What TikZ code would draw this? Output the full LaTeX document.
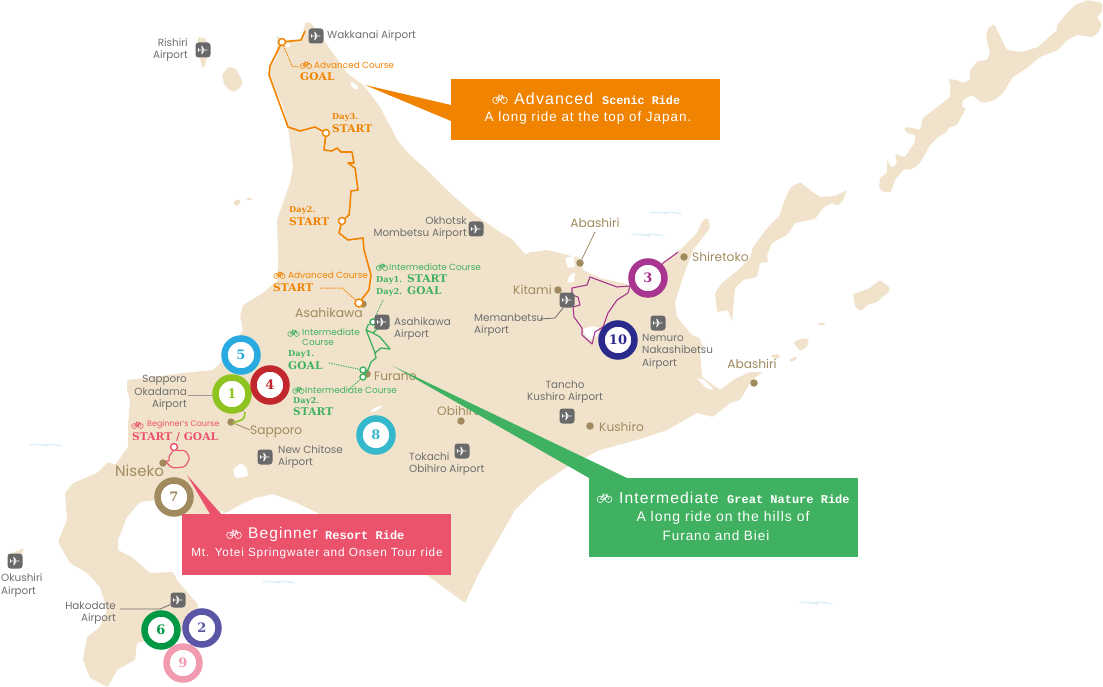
\documentclass[tikz,border=0pt]{standalone}
\usepackage{fontspec}
\setmainfont{Poppins}
\newfontfamily\slab{DejaVu Serif Bold}[LetterSpace=1]
\newfontfamily\slabb{DejaVu Serif Bold}
\newfontfamily\mono{Liberation Mono Bold}
\newfontfamily\helv{Liberation Sans}[LetterSpace=7]
\definecolor{land}{HTML}{F1E3CB}
\definecolor{wave}{HTML}{DCEEF7}
\definecolor{gtext}{HTML}{6E6E6E}
\definecolor{brown}{HTML}{A08A5E}
\definecolor{icon}{HTML}{696969}
\definecolor{cOr}{HTML}{F08300}
\definecolor{cGr}{HTML}{40B160}
\definecolor{cPk}{HTML}{EB526B}
\definecolor{cPu}{HTML}{A8358F}
\definecolor{cLi}{HTML}{8FC31F}
\definecolor{cFive}{HTML}{29ABE2}
\definecolor{cFour}{HTML}{C1272D}
\definecolor{cEight}{HTML}{36B8CC}
\definecolor{cSix}{HTML}{009844}
\definecolor{cTwo}{HTML}{5A55A5}
\definecolor{cNine}{HTML}{F09BB0}
\definecolor{cTen}{HTML}{2A2A8C}
\tikzset{
  x=1pt,y=-1pt,
  landmass/.style={fill=land,draw=none,rounded corners=1.2pt},
  lake/.style={fill=white,draw=none,rounded corners=1pt},
  seawave/.style={draw=wave,line width=1.4pt,line cap=round},
  gl/.style={font=\fontsize{#1}{12.4}\selectfont,text=gtext,inner sep=0pt},
  gl/.default=10.4,
  bl/.style={font=\fontsize{#1}{13}\selectfont,text=brown,inner sep=0pt},
  bl/.default=12.2,
  lead/.style={draw=#1,line width=.8pt},
  num/.style={circle,draw=#1,line width=6.5pt,fill=white,minimum size=33pt,inner sep=0pt,text=#1,font=\slabb\fontsize{13}{13}\selectfont},
  stopdot/.style={circle,fill=white,draw=#1,line width=1.4pt,minimum size=7pt,inner sep=0pt},
  place/.style={circle,fill=brown,minimum size=7.5pt,inner sep=0pt},
  route/.style={draw=#1,line width=1.6pt,line join=round},
  dots/.style={draw=#1,line width=1pt,dash pattern=on 1.3pt off 1.1pt},
  small/.style={font=\fontsize{8.9}{10}\selectfont,text=#1,inner sep=0pt,anchor=west},
  day/.style={font=\slab\fontsize{8.2}{10}\selectfont,text=#1,inner sep=0pt,anchor=west},
  big/.style={font=\slab\fontsize{10.6}{11}\selectfont,text=#1,inner sep=0pt,anchor=west},
  box/.style={fill=#1,draw=none},
  wt/.style={text=white,inner sep=0pt,font=\helv\fontsize{#1}{17}\selectfont},
  mt/.style={text=white,inner sep=0pt,font=\mono\fontsize{#1}{12}\selectfont},
  airport/.pic={
    \fill[icon,rounded corners=3pt] (-7.5,-7.5) rectangle (7.5,7.5);
    \begin{scope}[scale=.88]
    \fill[white] (-5.5,-.55) -- (4,-.55) -- (5.6,0) -- (4,.55) -- (-5.5,.55) -- cycle;
    \fill[white] (1.6,-.5) -- (-1,-4.6) -- (-2,-4.6) -- (-1,-.5) -- cycle;
    \fill[white] (1.6,.5) -- (-1,4.6) -- (-2,4.6) -- (-1,.5) -- cycle;
    \fill[white] (-4.3,-.5) -- (-5.4,-2.2) -- (-5.8,-2.2) -- (-5.4,.5) -- (-5.8,2.2) -- (-5.4,2.2) -- (-4.3,.5) -- cycle;
    \end{scope}
  },
  bicycle/.pic={
    \draw[#1,line width=.6pt] (-3.2,1) circle (2.5) (3.2,1) circle (2.5);
    \draw[#1,line width=.6pt] (-3.2,1) -- (-.9,-2.3) -- (2.1,-2.3) -- (3.2,1) (-.9,-2.3) -- (.2,1) -- (2.1,-2.3) (-3.2,1) -- (.2,1) (-1.6,-3.2) -- (-.3,-3.2) (1.4,-3.2) -- (2.1,-2.3);
  }
}
\begin{document}
\begin{tikzpicture}
\useasboundingbox (0,0) rectangle (1103,687);
% waves
\foreach \wx/\wy in {30/445,650/213,632/235,263/582,800/603}
  \draw[seawave] (\wx,\wy) .. controls +(6,-2) and +(8,2) .. ++(14,0) .. controls +(6,-2) and +(8,2) .. ++(14,0) ;
% land
\fill[landmass] (305,23)--(310,22)--(315,28)--(327,45)--(338,60)--(347,73)--(363,85)--(372,96)--(380,107)--(388,122)--(397,140)--(410,155)--(427,170)--(450,193)--(475,215)--(500,232)--(513,240)--(525,253)--(547,250)--(567,255)--(580,258)--(583,270)--(600,278)--(630,285)--(640,280)--(663,263)--(680,250)--(697,233)--(703,220)--(708,218)--(710,228)--(693,250)--(682,280)--(675,303)--(677,317)--(692,335)--(707,340)--(700,350)--(702,377)--(720,390)--(733,380)--(750,372)--(763,372)--(752,380)--(740,400)--(730,403)--(713,417)--(697,413)--(667,430)--(637,440)--(600,450)--(570,465)--(540,485)--(515,510)--(495,545)--(478,575)--(465,603)--(450,592)--(420,570)--(380,540)--(340,525)--(320,514)--(297,503)--(273,494)--(255,498)--(240,505)--(225,513)--(183,517)--(170,505)--(157,500)--(140,502)--(127,517)--(118,540)--(118,550)--(133,558)--(150,573)--(173,572)--(177,580)--(188,593)--(197,603)--(200,620)--(180,632)--(150,640)--(137,643)--(135,660)--(117,670)--(108,687)--(90,678)--(83,660)--(87,637)--(100,627)--(107,610)--(100,587)--(87,573)--(70,563)--(58,542)--(67,520)--(65,493)--(73,483)--(97,473)--(108,462)--(115,465)--(128,447)--(128,425)--(130,400)--(127,390)--(127,380)--(153,377)--(183,373)--(213,370)--(223,360)--(243,330)--(240,317)--(243,305)--(263,293)--(278,280)--(278,250)--(277,220)--(290,183)--(293,167)--(288,127)--(283,107)--(268,72)--(277,57)--(277,35)--(282,40)--(302,40)--cycle;
% islands
\fill[landmass] (198,37)--(203,38)--(205,37)--(208,50)--(205,67)--(202,67)--(198,50)--cycle;
\fill[landmass] (228,67)--(235,68)--(241,78)--(243,84)--(235,92)--(229,90)--(224,84)--(222,75)--cycle;
\fill[landmass] (233,202)--(238,199)--(241,201)--(238,206)--(235,206)--cycle;
\fill[landmass] (245,199)--(249,197)--(253,200)--(249,200)--cycle;
\fill[landmass] (8,555)--(24,548)--(20,560)--(15,568)--(10,566)--cycle;
\fill[landmass] (732,322)--(735,288)--(743,280)--(757,277)--(760,263)--(768,262)--(767,255)--(772,243)--(787,235)--(795,223)--(815,219)--(824,207)--(832,203)--(838,206)--(843,200)--(847,190)--(835,196)--(820,197)--(810,190)--(800,182)--(790,188)--(782,207)--(780,215)--(768,227)--(753,247)--(750,258)--(738,270)--(722,283)--(715,293)--(717,312)--(728,310)--cycle;
\fill[landmass] (879,188)--(880,178)--(887,173)--(887,160)--(892,168)--(897,163)--(895,154)--(905,157)--(915,142)--(915,135)--(907,133)--(904,128)--(908,127)--(920,130)--(923,118)--(940,105)--(950,97)--(950,83)--(948,79)--(957,80)--(963,83)--(970,80)--(970,70)--(978,61)--(987,60)--(990,53)--(986,37)--(988,28)--(994,24)--(1007,50)--(1022,52)--(1038,47)--(1057,30)--(1057,25)--(1068,12)--(1075,5)--(1088,0)--(1102,3)--(1102,12)--(1097,17)--(1102,25)--(1098,33)--(1092,37)--(1077,35)--(1067,40)--(1058,50)--(1040,57)--(1027,68)--(1013,77)--(1003,93)--(995,100)--(982,103)--(972,95)--(963,100)--(962,107)--(966,108)--(957,125)--(948,128)--(947,132)--(938,137)--(930,145)--(922,160)--(918,165)--(910,170)--(904,169)--(895,180)--(891,192)--(883,192)--cycle;
\fill[landmass] (853,294)--(865,290)--(870,288)--(880,280)--(890,288)--(889,292)--(882,297)--(877,302)--(867,305)--(861,311)--(855,307)--cycle;
\fill[landmass] (793,342)--(803,338)--(809,340)--(807,347)--(800,351)--cycle;
\fill[landmass] (817,325)--(822,322)--(826,325)--cycle;
\fill[landmass] (770,355)--(779,354)--(780,358)--(775,359)--cycle;
\fill[landmass] (789,360)--(797,356)--(796,360)--(791,362)--cycle;
\fill[landmass] (785,366)--(788,366)--(786,368)--cycle;
% lakes
\fill[lake] (350,82)--(354,83)--(359,88)--(356,90)--(352,87)--cycle;
\fill[lake] (284,44)--(291,44)--(288,48)--cycle;
\fill[lake] (513,240)--(523,244)--(530,253)--(525,254)--cycle;
\fill[lake] (565,258)--(574,256)--(575,267)--(568,268)--cycle;
\fill[lake] (567,283)--(569,276)--(575,272)--(574,282)--cycle;
\fill[lake] (583,329)--(592,326)--(600,328)--(597,336)--(590,340)--(585,335)--cycle;
\fill[lake] (233,470)--(237,466)--(241,463)--(247,468)--(248,476)--(238,478)--(235,477)--cycle;
\fill[lake] (370,413)--(374,408)--(383,405)--(378,410)--cycle;
\fill[lake] (692,335)--(700,336)--(708,342)--(702,346)--(700,338)--cycle;
\fill[lake] (697,378)--(704,380)--(714,390)--(706,388)--cycle;
\fill[white] (222,512) circle (1.6);
\fill[white] (759,318) circle (1);
% routes
\node[stopdot=cOr] (oGoal) at (282,42) {};
\node[stopdot=cOr] (oDay3) at (326,133) {};
\node[stopdot=cOr] (oDay2) at (342,221) {};
\node[place] (asahi) at (363,304) {};
\coordinate (oEnd) at (305,31);
\coordinate (oGoalTxt) at (299,67);
\coordinate (oStartTxt) at (320,288);
\draw[route=cOr] (oEnd) -- (301,40) -- (oGoal) -- (270,66) -- (269,75) -- (288,127) -- (300,131) -- (315,127) -- (oDay3);
\draw[route=cOr] (oDay3) -- (324,150) -- (332,151) -- (337,148) -- (341,152) -- (352,152) -- (354,163) -- (348,163) -- (355,168) -- (358,190) -- (351,191) -- (350,205) -- (349,215) -- (oDay2);
\draw[route=cOr] (oDay2) -- (339,233) -- (348,240) -- (363,238) -- (364,250) -- (371,275) -- (369,290) -- (359,303);
\draw[dots=cOr] (oGoal) -- (292,66) -- (oGoalTxt);
\draw[dots=cOr] (oStartTxt) -- (342,288) -- (359,303);
\node[stopdot=cOr,minimum size=8pt] (oStart) at (359,303) {};
% Green route
\node[place] (furano) at (367,374) {};
\coordinate (gTxt1) at (383,300);
\coordinate (gTxt2) at (329,363);
\coordinate (gTxt3) at (348,390);
\node[stopdot=cGr,minimum size=6pt] (gA) at (373,322) {};
\node[stopdot=cGr,minimum size=6pt] (gB) at (363,370) {};
\node[stopdot=cGr,minimum size=6pt] (gC) at (363,377) {};
\draw[route=cGr,line width=1.3pt] (gA) -- (368,325) -- (366,330) -- (373,333) -- (380,337) -- (390,349) -- (381,348) -- (375,353) -- (376,358) -- (371,362) -- (368,370) -- (gB) (366,330) -- (372,345) -- (375,353) (368,370) -- (gC) (373,333) -- (380,326) -- (374,328);
\draw[dots=cGr] (gTxt1) -- (gA);
\draw[dots=cGr] (gTxt2) -- (gB);
\draw[dots=cGr] (gTxt3) -- (gC);
% Red route
\node[stopdot=cPk,minimum size=7pt] (rS) at (174,447) {};
\draw[route=cPk,line width=1.1pt,rounded corners=2pt] (rS) -- (172,453) -- (168,457) -- (170,461) -- (165,461) -- (172,468) -- (185,467) -- (190,458) -- (185,450) -- (177,451) -- (rS);
% purple route
\coordinate (pEnd) at (678,252);
\draw[route=cPu,line width=1.1pt] (pEnd) -- (670,258) -- (663,263) -- (650,280) -- (630,286) -- (617,287) -- (590,277) -- (587,285) -- (572,288) -- (572,295) -- (578,297) -- (580,305) -- (573,307) -- (574,317) -- (582,328) -- (582,335) -- (592,344) -- (595,332) -- (603,327) -- (608,313) -- (617,300) -- (628,293) -- (630,286);
% lime
\node[place] (sapporo) at (231,422) {};
\coordinate (lEnd) at (245,412);
\draw[route=cLi,rounded corners=2pt] (lEnd) -- (244,419) -- (233,423);
% places
\node[place] (abn) at (580,263) {};
\node[place] (shire) at (684,257) {};
\node[place] (kitami) at (558,290) {};
\node[place] (abs) at (754,383) {};
\node[place] (kushiro) at (590,426) {};
\node[place] (obi) at (461,421) {};
\node[place] (niseko) at (163,463) {};
% airports
\pic at (316,36) {airport};
\pic at (203,50) {airport};
\pic at (476,229) {airport};
\pic at (567,300) {airport};
\pic at (658,323) {airport};
\pic at (567,416) {airport};
\pic at (462,451) {airport};
\pic at (382,322) {airport};
\pic at (265,457) {airport};
\pic at (237,404) {airport};
\pic at (178,600) {airport};
\pic at (15,561) {airport};
\coordinate (apMemC) at (563,308);
\coordinate (apHak) at (172,604);
\coordinate (tMem) at (540,319);
\coordinate (tHak) at (120,609);
\coordinate (tOka) at (188,395);
\coordinate (apOka) at (215,395);
\coordinate (tAb) at (595,232);
\coordinate (tSap) at (250,430);
\draw[lead=gtext] (tMem) -- (555,318) -- (apMemC);
\draw[lead=gtext] (tHak) -- (160,609) -- (apHak);
\draw[lead=gtext!70] (tOka) -- (apOka);
\draw[lead=brown] (tAb) -- (abn);
\draw[lead=brown] (tSap) -- (sapporo);
% text gray
\node[gl,anchor=west] (t1) at (327,35.5) {Wakkanai Airport};
\node[gl,anchor=east,align=right] (t2) at (188,50) {Rishiri\\Airport};
\node[gl,anchor=east,align=right] (t3) at (467,228) {Okhotsk\hspace{8pt}\\Mombetsu Airport};
\node[gl,anchor=west,align=left] (t4) at (474,325) {Memanbetsu\\Airport};
\node[gl,anchor=west,align=left] (t5) at (642,351.5) {Nemuro\\Nakashibetsu\\Airport};
\node[gl,align=center] (t6) at (565,392) {Tancho\\Kushiro Airport};
\node[gl,anchor=west,align=left] (t7) at (409,464) {Tokachi\\Obihiro Airport};
\node[gl,anchor=west,align=left] (t8) at (394,329) {Asahikawa\\Airport};
\node[gl,anchor=west,align=left] (t9) at (278,457) {New Chitose\\Airport};
\node[gl,anchor=east,align=right] (t10) at (187,393) {Sapporo\\Okadama\\Airport};
\node[gl,anchor=east,align=right] (t11) at (116,613) {Hakodate\\Airport};
\node[gl,anchor=west,align=left] (t12) at (1,585.5) {Okushiri\\Airport};
% text brown
\node[bl] (b1) at (595,223) {Abashiri};
\node[bl,anchor=west] (b2) at (692,257) {Shiretoko};
\node[bl,anchor=east] (b3) at (552,290) {Kitami};
\node[bl] (b4) at (752,364) {Abashiri};
\node[bl,anchor=west] (b5) at (599,427) {Kushiro};
\node[bl,anchor=west] (b6) at (437,411) {Obihiro};
\node[bl=12.4] (b7) at (329,313) {Asahikawa};
\node[bl,anchor=west] (b8) at (374,376) {Furano};
\node[bl,anchor=west] (b9) at (250,432) {Sapporo};
\node[bl=15,anchor=west] (b10) at (115,471) {Niseko};
% orange labels
\pic at (306,65) {bicycle=cOr};
\node[small=cOr] (o1) at (314,65) {Advanced Course};
\node[big=cOr] (o2) at (300,77) {GOAL};
\node[day=cOr] (o3) at (332,117) {Day3.};
\node[big=cOr] (o4) at (332,129) {START};
\node[day=cOr] (o5) at (289,210) {Day2.};
\node[big=cOr] (o6) at (289,221.5) {START};
\pic at (279.5,275) {bicycle=cOr};
\node[small=cOr] (o7) at (288,275) {Advanced Course};
\node[big=cOr] (o8) at (273,288) {START};
% green labels
\pic at (382,267) {bicycle=cGr};
\node[small=cGr] (g1) at (389,267) {Intermediate Course};
\node[day=cGr] (g2) at (376,280) {Day1.};
\node[big=cGr] (g3) at (407,279) {START};
\node[day=cGr] (g4) at (376,292) {Day2.};
\node[big=cGr] (g5) at (407,291) {GOAL};
\pic at (293.5,333) {bicycle=cGr};
\node[small=cGr] (g6) at (302,332) {Intermediate};
\node[small=cGr] (g7) at (302,342) {Course};
\node[day=cGr] (g8) at (288,354) {Day1.};
\node[big=cGr] (g9) at (288,366) {GOAL};
\pic at (298.5,390) {bicycle=cGr};
\node[small=cGr] (g10) at (305,390) {Intermediate Course};
\node[day=cGr] (g11) at (293,401) {Day2.};
\node[big=cGr] (g12) at (293,412) {START};
% pink labels
\pic at (137.5,425) {bicycle=cPk};
\node[small=cPk,font=\fontsize{8}{9}\selectfont] (p1) at (147,425) {Beginner's Course};
\node[big=cPk] (p2) at (132,437) {START / GOAL};
% numbered circles
\node[num=cPu] (n3) at (648,278) {3};
\node[num=cLi] (n1) at (232,394) {1};
\node[num=cFive] (n5) at (241,355) {5};
\node[num=cFour] (n4) at (270,385) {4};
\node[num=cEight] (n8) at (376,435) {8};
\node[num=brown] (n7) at (174,497) {7};
\node[num=cSix] (n6) at (161,630) {6};
\node[num=cTwo] (n2) at (202,628) {2};
\node[num=cNine] (n9) at (183,663) {9};
\node[num=cTen] (n10) at (618,340) {10};
% callouts
\fill[cOr] (365,85) -- (451,105) -- (451,121) -- cycle;
\fill[box=cOr] (451,79.5) rectangle (720,140);
\pic[scale=1.3] at (500,99) {bicycle=white};
\node[wt=16,anchor=west] (c1) at (514,99) {Advanced};
\node[mt=11.8,anchor=west] (c2) at (602,100) {Scenic Ride};
\node[wt=13.5] (c3) at (588,118) {A long ride at the top of Japan.};
\fill[cGr] (393,366) -- (627,478) -- (589,478) -- cycle;
\fill[box=cGr] (589,478) rectangle (858,557);
\pic[scale=1.3] at (604.5,498) {bicycle=white};
\node[wt=15.7,anchor=west] (c4) at (619,498) {Intermediate};
\node[mt=12,anchor=west] (c5) at (727,499) {Great Nature Ride};
\node[wt=14] (c6) at (723,518) {A long ride on the hills of};
\node[wt=13.5] (c7) at (716,536) {Furano and Biei};
\fill[cPk] (187,475) -- (221,514) -- (210,514) -- cycle;
\fill[box=cPk] (182,514) rectangle (451,575);
\pic[scale=1.3] at (234,534) {bicycle=white};
\node[wt=15.5,anchor=west] (c8) at (248,534) {Beginner};
\node[mt=12,anchor=west] (c9) at (325,535) {Resort Ride};
\node[wt=11.8] (c10) at (317,553) {Mt. Yotei Springwater and Onsen Tour ride};
\end{tikzpicture}
\end{document}
